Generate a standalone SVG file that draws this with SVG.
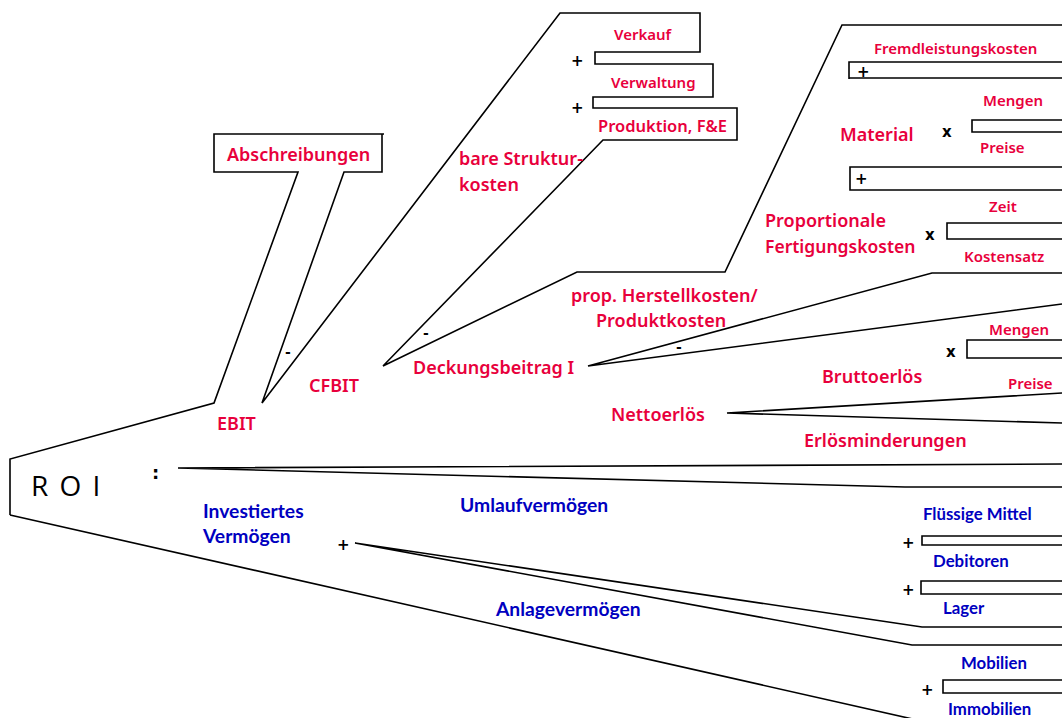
<svg xmlns="http://www.w3.org/2000/svg" width="1062" height="718" viewBox="0 0 1062 718">
<style>
.ln{fill:none;stroke:#000;stroke-width:1.6;stroke-linejoin:miter}
.r{font-family:"Noto Sans","Open Sans",sans-serif;font-weight:600;fill:#e8003c}
.b{font-family:"Lato","Noto Sans",sans-serif;font-weight:700;fill:#0000c0}
.k{font-family:"DejaVu Sans",sans-serif;font-weight:700;fill:#000}
.l{font-size:18px}
.s{font-size:15px}
.bl{font-size:19.3px}
.bs{font-size:16.8px}
</style>
<rect width="1062" height="718" fill="#fff"/>
<g id="connectors">
<path class="ln" d="M10,515 V459 L214,403 L298,172 H214 V134 H384 M382,134 V172 H344 L262,403 L560,13 H700 V52 H595 V64 H713 V97 H593 V108 H737 V140 H603 L383,366 L577,272 H725 L842,25 H1062"/>
<path class="ln" d="M10,515 L917,720"/>
<path class="ln" d="M1062,62 H849 V79 M849,78 H1062"/>
<path class="ln" d="M1062,120 H972 V132 H1062"/>
<path class="ln" d="M1062,167 H850 V190 H1062"/>
<path class="ln" d="M1062,223 H947 V239 H1062"/>
<path class="ln" d="M1062,273 H932 L588,366 L1062,304"/>
<path class="ln" d="M1062,340 H967 V358 H1062"/>
<path class="ln" d="M1062,393 L727,413 L1062,423"/>
<path class="ln" d="M1062,464 L178,468 L905,487 H1062"/>
<path class="ln" d="M1062,536 H922 V545 H1062"/>
<path class="ln" d="M1062,581 H921 V594 H1062"/>
<path class="ln" d="M1062,627 H922 L355,543 L912,645 H1062"/>
<path class="ln" d="M1062,680 H943 V693 H1062"/>
</g>
<g id="roi"><text x="31" y="496" font-family="Open Sans,sans-serif" font-size="28" fill="#000" letter-spacing="2">R O I</text><text x="152" y="479" class="k" font-size="18">:</text></g>
<g id="ebit"><text x="217" y="430" class="r l">EBIT</text></g>
<g id="abschreibungen"><text x="227" y="161" class="r l">Abschreibungen</text><text x="285" y="357" class="k" font-size="14">-</text></g>
<g id="cfbit"><text x="309" y="392" class="r l">CFBIT</text></g>
<g id="strukturkosten"><text x="459" y="165" class="r l">bare Struktur-</text><text x="459" y="191" class="r l">kosten</text><text x="423" y="338" class="k" font-size="14">-</text></g>
<g id="verkauf"><text x="614" y="40" class="r s">Verkauf</text><text x="571" y="66" class="k" font-size="15">+</text></g>
<g id="verwaltung"><text x="611" y="88" class="r s">Verwaltung</text><text x="571" y="113" class="k" font-size="15">+</text></g>
<g id="produktion"><text x="598" y="132" class="r" font-size="16.5">Produktion, F&amp;E</text></g>
<g id="db1"><text x="413" y="374" class="r l">Deckungsbeitrag I</text><text x="676" y="352" class="k" font-size="14">-</text></g>
<g id="herstellkosten"><text x="571" y="302" class="r l">prop. Herstellkosten/</text><text x="596" y="327" class="r l">Produktkosten</text></g>
<g id="fremdleistung"><text x="874" y="54" class="r s">Fremdleistungskosten</text><text x="857" y="77" class="k" font-size="15">+</text></g>
<g id="material"><text x="840" y="141" class="r l">Material</text><text x="942" y="137" class="k" font-size="15">x</text><text x="983" y="106" class="r s">Mengen</text><text x="980" y="153" class="r s">Preise</text><text x="855" y="184" class="k" font-size="15">+</text></g>
<g id="fertigung"><text x="765" y="227" class="r l">Proportionale</text><text x="765" y="253" class="r" font-size="17.5">Fertigungskosten</text><text x="925" y="240" class="k" font-size="15">x</text><text x="989" y="212" class="r s">Zeit</text><text x="964" y="262" class="r s">Kostensatz</text></g>
<g id="bruttoerloes"><text x="822" y="383" class="r l">Bruttoerlös</text><text x="946" y="357" class="k" font-size="15">x</text><text x="989" y="335" class="r s">Mengen</text><text x="1008" y="389" class="r s">Preise</text></g>
<g id="nettoerloes"><text x="611" y="421" class="r l">Nettoerlös</text></g>
<g id="erloesminderungen"><text x="804" y="447" class="r l">Erlösminderungen</text></g>
<g id="investiert"><text x="203" y="518" class="b bl">Investiertes</text><text x="203" y="543" class="b bl">Vermögen</text><text x="337" y="550" class="k" font-size="15">+</text></g>
<g id="umlauf"><text x="460" y="512" class="b bl">Umlaufvermögen</text></g>
<g id="anlage"><text x="496" y="616" class="b bl">Anlagevermögen</text></g>
<g id="fluessig"><text x="923" y="520" class="b bs">Flüssige Mittel</text><text x="902" y="548" class="k" font-size="15">+</text></g>
<g id="debitoren"><text x="933" y="567" class="b bs">Debitoren</text><text x="902" y="595" class="k" font-size="15">+</text></g>
<g id="lager"><text x="943" y="614" class="b bs">Lager</text></g>
<g id="mobilien"><text x="961" y="669" class="b bs">Mobilien</text><text x="921" y="695" class="k" font-size="15">+</text></g>
<g id="immobilien"><text x="948" y="715" class="b bs">Immobilien</text></g>
</svg>
